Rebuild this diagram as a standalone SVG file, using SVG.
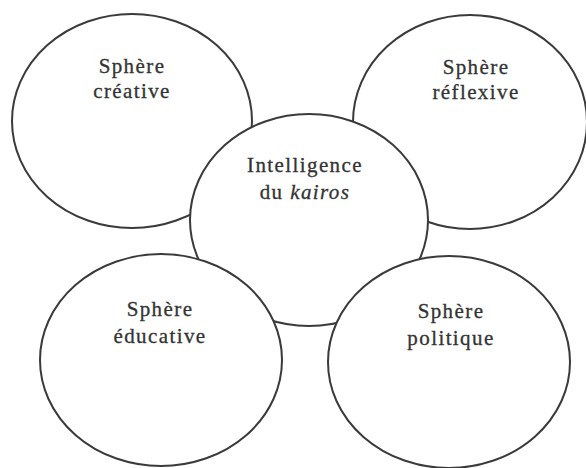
<svg xmlns="http://www.w3.org/2000/svg" width="586" height="468" viewBox="0 0 586 468">
<style>
.c{fill:#fff;stroke:#3a3a3a;stroke-width:2}
.t{font-family:'Liberation Serif','DejaVu Serif',serif;font-size:21px;fill:#333;text-anchor:middle;letter-spacing:1.4px;stroke:#333;stroke-width:0.3px}
</style>
<rect width="586" height="468" fill="#fff"/>
<g id="connectors"></g>
<g id="creative">
<ellipse class="c" cx="132" cy="121" rx="120" ry="107"/>
<text class="t" x="132" y="73">Sphère</text>
<text class="t" x="132" y="98">créative</text>
</g>
<g id="reflexive">
<ellipse class="c" cx="470" cy="122" rx="117" ry="107"/>
<text class="t" x="476" y="74">Sphère</text>
<text class="t" x="476" y="99">réflexive</text>
</g>
<g id="kairos">
<ellipse class="c" cx="309" cy="220" rx="119" ry="106"/>
<text class="t" x="305" y="172">Intelligence</text>
<text class="t" x="305" y="199">du <tspan font-style="italic">kairos</tspan></text>
</g>
<g id="educative">
<ellipse class="c" cx="161" cy="360" rx="121" ry="106"/>
<text class="t" x="160" y="316">Sphère</text>
<text class="t" x="160" y="343">éducative</text>
</g>
<g id="politique">
<ellipse class="c" cx="449" cy="362" rx="121" ry="106"/>
<text class="t" x="451" y="318">Sphère</text>
<text class="t" x="451" y="345">politique</text>
</g>
</svg>
